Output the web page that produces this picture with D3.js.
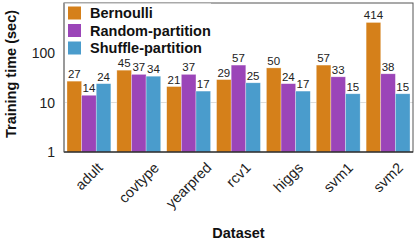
<!DOCTYPE html>
<html>
<head>
<meta charset="utf-8">
<script src="https://cdn.jsdelivr.net/npm/d3@7"></script>
<style>
  body { margin: 0; background: #fff; }
  text { font-family: "Liberation Sans", Arial, sans-serif; }
</style>
</head>
<body>
<script>
var w = 416;
var h = 242;

var datasets = ["adult", "covtype", "yearpred", "rcv1", "higgs", "svm1", "svm2"];
var series = ["Bernoulli", "Random-partition", "Shuffle-partition"];
var bernoulli = [27, 45, 21, 29, 50, 57, 414];
var randomPart = [14, 37, 37, 57, 24, 33, 38];
var shufflePart = [24, 34, 17, 25, 17, 15, 15];
var yTicks = [1, 10, 100];
var colors = ["#d5801a", "#9b45b8", "#4a9ccc"];

var values = [bernoulli, randomPart, shufflePart];

var pLeft = 64, pRight = 413, pTop = 3.5, pBottom = 152;

var svg = d3.select("body").append("svg")
            .attr("width", w)
            .attr("height", h);

var x = d3.scaleBand()
          .domain(datasets)
          .range([pLeft, pRight])
          .paddingInner(0.12)
          .paddingOuter(0.06);

var xs = d3.scaleBand()
           .domain(series)
           .range([0, x.bandwidth()]);

var y = d3.scaleLog()
          .domain([1, 1000])
          .range([pBottom, pTop]);

// grid line at 10 only
svg.append("line")
   .attr("x1", pLeft).attr("x2", pRight)
   .attr("y1", y(10)).attr("y2", y(10))
   .attr("stroke", "#dddddd")
   .attr("stroke-width", 1);

// bars
var groups = svg.selectAll("g.grp")
   .data(datasets)
   .enter()
   .append("g")
   .attr("class", "grp")
   .attr("transform", function(d) { return "translate(" + x(d) + ",0)"; });

groups.selectAll("rect")
   .data(function(d, i) {
       return series.map(function(s, j) { return {s: s, v: values[j][i], j: j}; });
   })
   .enter()
   .append("rect")
   .attr("x", function(d) { return xs(d.s); })
   .attr("y", function(d) { return y(d.v); })
   .attr("width", xs.bandwidth())
   .attr("height", function(d) { return pBottom - y(d.v); })
   .attr("fill", function(d) { return colors[d.j]; })
   .attr("stroke", "#ffffff")
   .attr("stroke-opacity", 0.5)
   .attr("stroke-width", 0.6);

// value labels
groups.selectAll("text.val")
   .data(function(d, i) {
       return series.map(function(s, j) { return {s: s, v: values[j][i], j: j}; });
   })
   .enter()
   .append("text")
   .attr("class", "val")
   .text(function(d) { return d.v; })
   .attr("x", function(d) { return xs(d.s) + xs.bandwidth() / 2; })
   .attr("y", function(d) { return y(d.v) - 3; })
   .attr("font-size", "11.5px")
   .attr("fill", "#222")
   .attr("text-anchor", "middle");

// frame
svg.append("rect")
   .attr("x", pLeft).attr("y", pTop - 0.5)
   .attr("width", pRight - pLeft).attr("height", pBottom - pTop + 0.5)
   .attr("fill", "none")
   .attr("stroke", "#555")
   .attr("stroke-width", 1);
svg.append("line")
   .attr("x1", pLeft).attr("x2", pLeft)
   .attr("y1", pTop - 0.5).attr("y2", pBottom)
   .attr("stroke", "#999").attr("stroke-width", 2);
svg.append("line")
   .attr("x1", pLeft).attr("x2", pRight)
   .attr("y1", pBottom).attr("y2", pBottom)
   .attr("stroke", "#111").attr("stroke-width", 1.2);

// y tick labels
svg.selectAll("text.ytick")
   .data(yTicks)
   .enter()
   .append("text")
   .attr("class", "ytick")
   .text(function(d) { return d; })
   .attr("x", 55)
   .attr("y", function(d) { return y(d) + 5; })
   .attr("font-size", "14px")
   .attr("fill", "#222")
   .attr("text-anchor", "end");

// x tick labels, rotated 45, centred like matplotlib ha=center
var fs = 14.5;
svg.selectAll("text.xtick")
   .data(datasets)
   .enter()
   .append("text")
   .attr("class", "xtick")
   .text(function(d) { return d; })
   .attr("font-size", fs + "px")
   .attr("fill", "#222")
   .attr("text-anchor", "middle")
   .attr("dominant-baseline", "central")
   .each(function(d) {
       var L = this.getComputedTextLength();
       var cx = x(d) + x.bandwidth() / 2;
       var cy = 160 + (L + fs) / (2 * Math.SQRT2);
       d3.select(this)
         .attr("x", cx).attr("y", cy)
         .attr("transform", "rotate(-45," + cx + "," + cy + ")");
   });

// axis titles
svg.append("text")
   .text("Training time (sec)")
   .attr("transform", "translate(16,74) rotate(-90)")
   .attr("text-anchor", "middle")
   .attr("font-size", "14.5px")
   .attr("font-weight", "bold")
   .attr("fill", "#111");

svg.append("text")
   .text("Dataset")
   .attr("x", (pLeft + pRight) / 2)
   .attr("y", 238)
   .attr("text-anchor", "middle")
   .attr("font-size", "14.5px")
   .attr("font-weight", "bold")
   .attr("fill", "#111");

// legend
var legend = svg.append("g");
legend.append("rect")
   .attr("x", pLeft + 1).attr("y", pTop)
   .attr("width", 146).attr("height", 54)
   .attr("fill", "#fff");

var items = legend.selectAll("g.item")
   .data(series)
   .enter()
   .append("g")
   .attr("class", "item")
   .attr("transform", function(d, i) { return "translate(68," + (13 + i * 17.5) + ")"; });

items.append("rect")
   .attr("x", 0).attr("y", -6.5)
   .attr("width", 13).attr("height", 13)
   .attr("fill", function(d, i) { return colors[i]; });

items.append("text")
   .text(function(d) { return d; })
   .attr("x", 22)
   .attr("y", 5)
   .attr("font-size", "14.5px")
   .attr("font-weight", "bold")
   .attr("fill", "#111");
</script>
</body>
</html>
